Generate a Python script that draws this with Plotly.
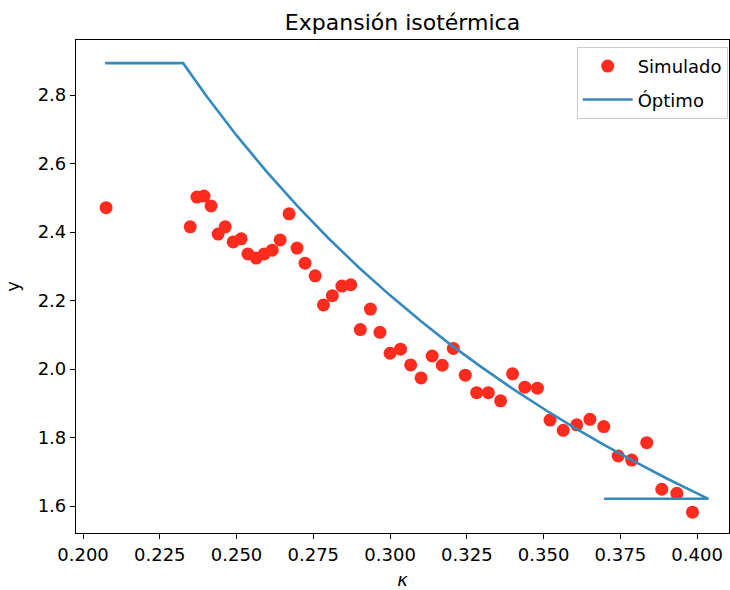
import plotly.graph_objects as go

# Simulated points (kappa, y)
sim_kappa = [0.2075, 0.2349, 0.2371, 0.2394, 0.2417, 0.2440, 0.2463, 0.2489, 0.2515,
             0.2537, 0.2564, 0.2590, 0.2616, 0.2642, 0.2671, 0.2697, 0.2723, 0.2756,
             0.2783, 0.2812, 0.2843, 0.2872, 0.2903, 0.2936, 0.2967, 0.3000, 0.3034,
             0.3067, 0.3101, 0.3137, 0.3170, 0.3206, 0.3245, 0.3282, 0.3320, 0.3360,
             0.3399, 0.3439, 0.3480, 0.3521, 0.3564, 0.3608, 0.3651, 0.3696, 0.3743,
             0.3787, 0.3836, 0.3885, 0.3934, 0.3985]
sim_y = [2.471, 2.415, 2.502, 2.505, 2.476, 2.394, 2.415, 2.371, 2.380,
         2.336, 2.324, 2.336, 2.347, 2.377, 2.453, 2.353, 2.309, 2.272,
         2.187, 2.214, 2.242, 2.246, 2.115, 2.175, 2.107, 2.046, 2.058,
         2.012, 1.974, 2.038, 2.011, 2.060, 1.982, 1.931, 1.931, 1.907,
         1.986, 1.947, 1.944, 1.851, 1.821, 1.837, 1.853, 1.832, 1.746,
         1.734, 1.785, 1.649, 1.637, 1.582]

# Optimal curve
opt_kappa = [0.2072, 0.2326, 0.240, 0.250, 0.260, 0.270, 0.280, 0.290, 0.300,
             0.310, 0.320, 0.330, 0.340, 0.350, 0.360, 0.370, 0.380, 0.390,
             0.400, 0.4037, 0.3697]
opt_y = [2.893, 2.893, 2.799, 2.682, 2.574, 2.474, 2.381, 2.295, 2.215,
         2.140, 2.069, 2.004, 1.942, 1.884, 1.829, 1.777, 1.728, 1.681,
         1.637, 1.621, 1.621]

x_ticks = [0.200, 0.225, 0.250, 0.275, 0.300, 0.325, 0.350, 0.375, 0.400]
y_ticks = [1.6, 1.8, 2.0, 2.2, 2.4, 2.6, 2.8]

FONT = "DejaVu Sans"

fig = go.Figure()
fig.add_trace(go.Scatter(
    x=sim_kappa, y=sim_y, mode="markers", name="Simulado",
    marker=dict(color="#fe2b1f", size=13, line=dict(width=0)),
    legendgroup="a"))
fig.add_trace(go.Scatter(
    x=opt_kappa, y=opt_y, mode="lines", name="Óptimo",
    line=dict(color="#348ABD", width=2.6),
    legendgroup="b"))

axis_common = dict(
    showgrid=False, zeroline=False, showline=True, linecolor="black", linewidth=1.2,
    mirror=True, ticks="outside", ticklen=5, tickwidth=1.2, tickcolor="black",
    tickfont=dict(family=FONT, size=18, color="black"),
)

fig.update_layout(
    width=730, height=590,
    margin=dict(l=76, r=1, t=40, b=57),
    paper_bgcolor="white", plot_bgcolor="white",
    title=dict(text="Expansión isotérmica", x=0.5, xanchor="center", xref="paper",
               y=1 - 22 / 590, yanchor="middle",
               font=dict(family=FONT, size=22, color="black")),
    xaxis=dict(range=[0.1977, 0.4104], tickvals=x_ticks, tickformat=".3f",
               title=dict(text="<i>κ</i>", font=dict(family=FONT, size=18, color="black"), standoff=9),
               **axis_common),
    yaxis=dict(range=[1.5212, 2.9606], tickvals=y_ticks, tickformat=".1f",
               title=dict(text="y", font=dict(family=FONT, size=18, color="black"), standoff=13),
               **axis_common),
    legend=dict(x=0.998, y=0.986, xanchor="right", yanchor="top",
                bgcolor="rgba(255,255,255,0.8)", bordercolor="#cccccc", borderwidth=1,
                font=dict(family=FONT, size=18, color="black"),
                traceorder="grouped", tracegroupgap=7, itemwidth=50),
    showlegend=True,
)

fig.write_html("out.html")
